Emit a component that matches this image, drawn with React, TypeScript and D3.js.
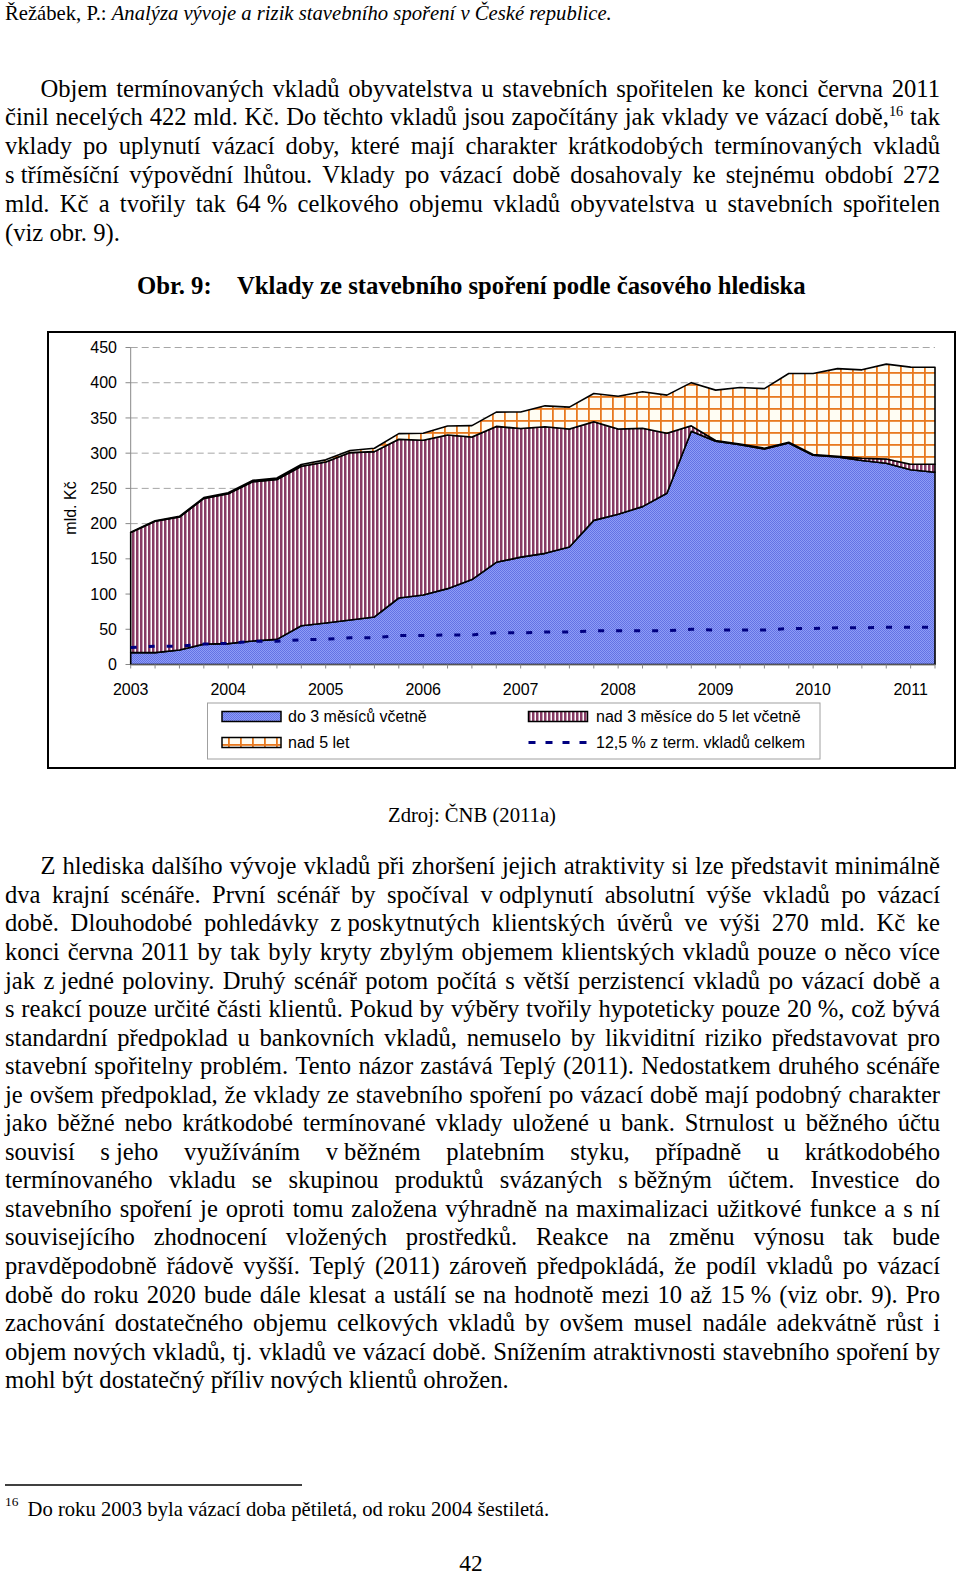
import React from "react";
import * as d3 from "d3";

// quarterly values 2003 Q1 .. 2011 Q2, mld. Kč
const yearLabels = ["2003", "2004", "2005", "2006", "2007", "2008", "2009", "2010", "2011"];
const do3mesicu = [16.8, 16.8, 20.6, 28.9, 29.6, 33.4, 35.7, 55.0, 59.0, 63.2, 67.5, 94.4, 98.7, 107.7, 120.5, 145.1, 152.4, 157.8, 166.8, 204.6, 213.4, 224.1, 243.0, 331.0, 317.0, 312.0, 306.0, 314.5, 297.0, 294.5, 289.5, 285.6, 276.5, 273.0];
const nad3mesiceDo5let = [170.4, 186.5, 188.7, 206.9, 212.8, 226.0, 227.0, 226.4, 228.5, 237.6, 234.7, 225.3, 219.6, 218.1, 202.5, 192.9, 182.6, 179.8, 167.5, 140.1, 120.9, 111.2, 85.2, 7.8, 1.0, 1.0, 1.0, 1.0, 1.0, 1.0, 3.3, 6.1, 7.7, 11.2];
const nad5let = [0.5, 0.7, 1.0, 1.2, 1.5, 2.0, 2.0, 2.5, 3.0, 3.0, 4.7, 8.0, 9.9, 12.8, 16.1, 20.3, 23.5, 29.6, 31.1, 40.1, 46.4, 51.8, 54.2, 61.3, 71.5, 80.3, 84.6, 97.6, 115.1, 124.5, 125.5, 134.7, 137.9, 137.7];
const podil125 = [24, 26, 26, 29, 30, 33, 33, 35, 36, 38, 38, 41, 41, 42, 42, 45, 45, 46, 46, 48, 48, 48, 48, 50, 49, 49, 49, 51, 51, 52, 52, 53, 53, 53];
const yTicks = [0, 50, 100, 150, 200, 250, 300, 350, 400, 450];
const seriesNames = ["do 3 měsíců včetně", "nad 3 měsíce do 5 let včetně", "nad 5 let", "12,5 % z term. vkladů celkem"];

const headerAuthor = "Řežábek, P.: ";
const headerTitle = "Analýza vývoje a rizik stavebního spoření v České republice.";
const para1 = [
  "Objem termínovaných vkladů obyvatelstva u stavebních spořitelen ke konci června 2011",
  "činil necelých 422 mld. Kč. Do těchto vkladů jsou započítány jak vklady ve vázací době,^16 tak",
  "vklady po uplynutí vázací doby, které mají charakter krátkodobých termínovaných vkladů",
  "s\u00a0tříměsíční výpovědní lhůtou. Vklady po vázací době dosahovaly ke stejnému období 272",
  "mld. Kč a tvořily tak 64\u00a0% celkového objemu vkladů obyvatelstva u stavebních spořitelen",
  "(viz obr. 9).",
];
const captionNo = "Obr. 9:";
const captionText = "Vklady ze stavebního spoření podle časového hlediska";
const source = "Zdroj: ČNB (2011a)";
const para2 = [
  "Z hlediska dalšího vývoje vkladů při zhoršení jejich atraktivity si lze představit minimálně",
  "dva krajní scénáře. První scénář by spočíval v\u00a0odplynutí absolutní výše vkladů po vázací",
  "době. Dlouhodobé pohledávky z\u00a0poskytnutých klientských úvěrů ve výši 270 mld. Kč ke",
  "konci června 2011 by tak byly kryty zbylým objemem klientských vkladů pouze o něco více",
  "jak z\u00a0jedné poloviny. Druhý scénář potom počítá s větší perzistencí vkladů po vázací době a",
  "s reakcí pouze určité části klientů. Pokud by výběry tvořily hypoteticky pouze 20\u00a0%, což bývá",
  "standardní předpoklad u bankovních vkladů, nemuselo by likviditní riziko představovat pro",
  "stavební spořitelny problém. Tento názor zastává Teplý (2011). Nedostatkem druhého scénáře",
  "je ovšem předpoklad, že vklady ze stavebního spoření po vázací době mají podobný charakter",
  "jako běžné nebo krátkodobé termínované vklady uložené u bank. Strnulost u běžného účtu",
  "souvisí s\u00a0jeho využíváním v\u00a0běžném platebním styku, případně u krátkodobého",
  "termínovaného vkladu se skupinou produktů svázaných s\u00a0běžným účtem. Investice do",
  "stavebního spoření je oproti tomu založena výhradně na maximalizaci užitkové funkce a s ní",
  "souvisejícího zhodnocení vložených prostředků. Reakce na změnu výnosu tak bude",
  "pravděpodobně řádově vyšší. Teplý (2011) zároveň předpokládá, že podíl vkladů po vázací",
  "době do roku 2020 bude dále klesat a ustálí se na hodnotě mezi 10 až 15\u00a0% (viz obr. 9). Pro",
  "zachování dostatečného objemu celkových vkladů by ovšem musel nadále adekvátně růst i",
  "objem nových vkladů, tj. vkladů ve vázací době. Snížením atraktivnosti stavebního spoření by",
  "mohl být dostatečný příliv nových klientů ohrožen.",
];
const footMark = "16";
const footText = "Do roku 2003 byla vázací doba pětiletá, od roku 2004 šestiletá.";
const pageNo = "42";

const SERIF = '"Liberation Serif", "Times New Roman", serif';
const SANS = '"Liberation Sans", Arial, sans-serif';

const ctx = document.createElement("canvas").getContext("2d");
function tw(s, size, style = "") {
  ctx.font = `${style} ${size}px ${SERIF}`;
  return ctx.measureText(s).width;
}

// body size fitted so the last (unjustified) line has the width it has on the page
const BODY = (24 * 504) / tw(para2[para2.length - 1], 24);
const SUP = BODY * 0.58;

function wordWidth(w) {
  const [main, sup] = w.split("^");
  return tw(main, BODY) + (sup ? tw(sup, SUP) : 0);
}

function Line({ text, x0, x1, y, justify }) {
  const words = text.split(" ");
  const widths = words.map(wordWidth);
  const gap = justify && words.length > 1 ? (x1 - x0 - d3.sum(widths)) / (words.length - 1) : tw(" ", BODY);
  let cx = x0;
  return (
    <g>
      {words.map((w, i) => {
        const [main, sup] = w.split("^");
        const el = (
          <text key={i} x={cx} y={y} fontFamily={SERIF} fontSize={BODY}>
            {main}
            {sup && (
              <tspan fontSize={SUP} dy={-BODY * 0.36}>
                {sup}
              </tspan>
            )}
          </text>
        );
        cx += widths[i] + gap;
        return el;
      })}
    </g>
  );
}

function Paragraph({ lines, top, step }) {
  return (
    <g>
      {lines.map((l, i) => (
        <Line key={i} text={l} x0={i === 0 ? 40.5 : 5} x1={940} y={top + i * step} justify={i < lines.length - 1} />
      ))}
    </g>
  );
}

export default function App() {
  const x = d3.scaleLinear().domain([0, do3mesicu.length - 1]).range([130.7, 935]);
  const y = d3.scaleLinear().domain([0, 450]).range([664.5, 347.5]);

  const rows = do3mesicu.map((v, i) => ({ a: v, b: nad3mesiceDo5let[i], c: nad5let[i] }));
  const stacked = d3.stack().keys(["a", "b", "c"])(rows);
  const area = d3
    .area()
    .x((d, i) => x(i))
    .y0((d) => y(d[0]))
    .y1((d) => y(d[1]));
  const line = d3
    .line()
    .x((d, i) => x(i))
    .y((d) => y(d));
  const fills = ["url(#blueDots)", "url(#maroonStripes)", "url(#orangeGrid)"];

  const hSize = 20;
  const hScale = 607 / (tw(headerAuthor, hSize) + tw(headerTitle, hSize, "italic"));
  const capSize = (24 * 569) / tw(captionText, 24, "bold");
  const fnSize = (20 * 522) / tw(footText, 20);
  const srcSize = (20 * 168) / tw(source, 20);

  const legY1 = 716.5;
  const legY2 = 742.5;

  return (
    <svg width={960} height={1579} style={{ position: "absolute", left: 0, top: 0, background: "#fff" }}>
      <defs>
        <pattern id="blueDots" patternUnits="userSpaceOnUse" width={2} height={2}>
          <rect width={2} height={2} fill="#8e9cf7" />
          <rect width={1} height={1} fill="#6372e4" />
          <rect x={1} y={1} width={1} height={1} fill="#6372e4" />
        </pattern>
        <pattern id="maroonStripes" patternUnits="userSpaceOnUse" width={4} height={4}>
          <rect width={4} height={4} fill="#fff" />
          <rect width={2.5} height={4} fill="#873b64" />
        </pattern>
        <pattern id="orangeGrid" patternUnits="userSpaceOnUse" width={12} height={12}>
          <rect width={12} height={12} fill="#fffdf3" />
          <rect width={1.8} height={12} fill="#e8791f" />
          <rect width={12} height={1.8} fill="#e8791f" />
        </pattern>
      </defs>

      {/* header */}
      <text x={5} y={20} fontFamily={SERIF} fontSize={hSize * hScale}>
        {headerAuthor}
        <tspan fontStyle="italic">{headerTitle}</tspan>
      </text>

      <Paragraph lines={para1} top={96.5} step={28.8} />

      <text x={137} y={294} fontFamily={SERIF} fontSize={capSize} fontWeight="bold">
        {captionNo}
      </text>
      <text x={237} y={294} fontFamily={SERIF} fontSize={capSize} fontWeight="bold">
        {captionText}
      </text>

      {/* chart frame */}
      <rect x={48} y={332} width={907} height={436} fill="#fff" stroke="#000" strokeWidth={2} />

      {yTicks.map((t) => (
        <g key={t}>
          {t > 0 && <line x1={130.7} x2={935} y1={y(t)} y2={y(t)} stroke="#a6a6a6" strokeDasharray="7 4" />}
          <line x1={125.5} x2={130.7} y1={y(t)} y2={y(t)} stroke="#888" />
          <text x={117} y={y(t)} dy="0.35em" textAnchor="end" fontFamily={SANS} fontSize={16}>
            {t}
          </text>
        </g>
      ))}
      <line x1={130.7} x2={130.7} y1={y(0)} y2={y(450)} stroke="#888" />

      {stacked.map((s, i) => (
        <path key={i} d={area(s)} fill={fills[i]} stroke="#000" strokeWidth={1.6} strokeLinejoin="round" />
      ))}

      <path d={line(podil125)} fill="none" stroke="#000080" strokeWidth={3} strokeDasharray="6 12" />

      <line x1={x(0)} x2={x(do3mesicu.length - 1)} y1={y(0)} y2={y(0)} stroke="#555" />
      {do3mesicu.map((_, i) => (
        <line key={i} x1={x(i)} x2={x(i)} y1={y(0)} y2={y(0) + 4} stroke="#888" />
      ))}
      {yearLabels.map((l, k) => (
        <text key={l} x={x(k * 4)} y={695} textAnchor="middle" fontFamily={SANS} fontSize={16}>
          {l}
        </text>
      ))}

      <text transform={`translate(76,508) rotate(-90)`} textAnchor="middle" fontFamily={SANS} fontSize={16}>
        mld. Kč
      </text>

      {/* legend */}
      <rect x={207.5} y={703} width={612.5} height={56} fill="#fff" stroke="#a0a0a0" />
      <rect x={222} y={legY1 - 5} width={59} height={10} fill={fills[0]} stroke="#000" strokeWidth={1.5} />
      <text x={288} y={legY1} dy="0.35em" fontFamily={SANS} fontSize={16}>
        {seriesNames[0]}
      </text>
      <rect x={528.5} y={legY1 - 5} width={59} height={10} fill={fills[1]} stroke="#000" strokeWidth={1.5} />
      <text x={596} y={legY1} dy="0.35em" fontFamily={SANS} fontSize={16}>
        {seriesNames[1]}
      </text>
      <rect x={222} y={legY2 - 5} width={59} height={10} fill={fills[2]} stroke="#000" strokeWidth={1.5} />
      <text x={288} y={legY2} dy="0.35em" fontFamily={SANS} fontSize={16}>
        {seriesNames[2]}
      </text>
      <line x1={528.5} x2={590} y1={legY2} y2={legY2} stroke="#000080" strokeWidth={3} strokeDasharray="7 10" />
      <text x={596} y={legY2} dy="0.35em" fontFamily={SANS} fontSize={16}>
        {seriesNames[3]}
      </text>

      <text x={472} y={822} textAnchor="middle" fontFamily={SERIF} fontSize={srcSize}>
        {source}
      </text>

      <Paragraph lines={para2} top={874.3} step={28.55} />

      {/* footnote */}
      <line x1={5} x2={302} y1={1485} y2={1485} stroke="#000" strokeWidth={1.3} />
      <text x={5} y={1506} fontFamily={SERIF} fontSize={fnSize * 0.65}>
        {footMark}
      </text>
      <text x={27.5} y={1516} fontFamily={SERIF} fontSize={fnSize}>
        {footText}
      </text>

      <text x={471} y={1571} textAnchor="middle" fontFamily={SERIF} fontSize={BODY * 0.95}>
        {pageNo}
      </text>
    </svg>
  );
}
